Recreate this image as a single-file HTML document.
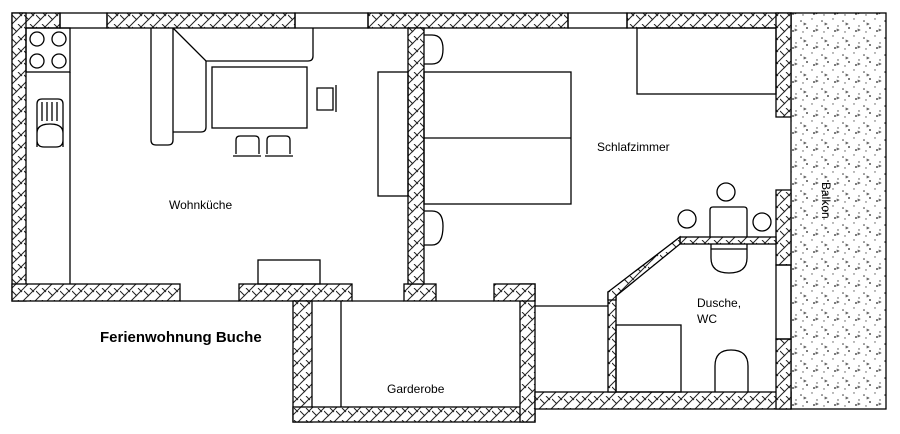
<!DOCTYPE html>
<html><head><meta charset="utf-8"><style>
html,body{margin:0;padding:0;background:#fff}
svg{display:block}
text{font-family:"Liberation Sans",Arial,sans-serif;fill:#000}
</style></head><body>
<svg width="900" height="434" viewBox="0 0 900 434" xmlns="http://www.w3.org/2000/svg">
<defs>
<pattern id="h" width="12" height="12" patternUnits="userSpaceOnUse">
<rect width="12" height="12" fill="#fff"/>
<path d="M0 12 L12 0 M-3 3 L3 -3 M9 15 L15 9" stroke="#222" stroke-width="1"/>
<path d="M0 3 L5 8 M6 0 L10 4" stroke="#222" stroke-width="1"/>
</pattern>
<pattern id="d" width="21" height="17" patternUnits="userSpaceOnUse">
<rect width="21" height="17" fill="#fff"/>
<circle cx="3" cy="4" r="0.8" fill="#333"/><circle cx="14" cy="2" r="0.7" fill="#555"/>
<circle cx="9" cy="11" r="0.9" fill="#222"/><circle cx="19" cy="9" r="0.7" fill="#444"/>
<circle cx="5" cy="15" r="0.7" fill="#555"/><circle cx="16" cy="14" r="0.9" fill="#222"/>
<path d="M18 12 l2 1 l-2 1z" fill="none" stroke="#333" stroke-width="0.6"/>
<path d="M6 6 l2 1 l-2 1z" fill="none" stroke="#333" stroke-width="0.6"/>
</pattern>
</defs>
<g stroke="#000" stroke-width="1.3">
<rect x="791" y="13" width="95" height="396" fill="url(#d)"/>
<g fill="url(#h)">
<rect x="12" y="13" width="48" height="15"/>
<rect x="107" y="13" width="188" height="15"/>
<rect x="368" y="13" width="200" height="15"/>
<rect x="627" y="13" width="164" height="15"/>
<rect x="12" y="13" width="14" height="288"/>
<rect x="12" y="284" width="168" height="17"/>
<rect x="239" y="284" width="113" height="17"/>
<rect x="404" y="284" width="32" height="17"/>
<rect x="408" y="28" width="16" height="256"/>
<rect x="293" y="301" width="19" height="121"/>
<rect x="293" y="407" width="242" height="15"/>
<rect x="520" y="284" width="15" height="138"/>
<rect x="494" y="284" width="41" height="17"/>
<rect x="535" y="392" width="256" height="17"/>
<rect x="776" y="13" width="15" height="104"/>
<rect x="776" y="190" width="15" height="75"/>
<rect x="776" y="339" width="15" height="70"/>
<rect x="608" y="292" width="8" height="100"/>
<rect x="680" y="237" width="96" height="7"/>
<polygon points="608,292 680,237 680,244 616,296 616,300 608,300"/>
</g>
<g fill="none">
<rect x="60" y="13" width="47" height="15"/>
<rect x="295" y="13" width="73" height="15"/>
<rect x="568" y="13" width="59" height="15"/>
<rect x="776" y="265" width="15" height="74"/>
<line x1="436" y1="301" x2="494" y2="301"/>
<line x1="180" y1="301" x2="239" y2="301"/>
<line x1="352" y1="301" x2="404" y2="301"/>
<rect x="26" y="28" width="44" height="44"/>
<circle cx="37" cy="39" r="7"/><circle cx="59" cy="39" r="7"/>
<circle cx="37" cy="61" r="7"/><circle cx="59" cy="61" r="7"/>
<line x1="70" y1="72" x2="70" y2="284"/>
<path d="M37 147 V104 Q37 99 42 99 H58 Q63 99 63 104 V147 M37 133 Q37 124 50 124 Q63 124 63 133 M37 133 V140 Q37 147 44 147 H56 Q63 147 63 140 V133"/>
<path d="M42 102 V121 M47 102 V121 M52 102 V121 M57 102 V121"/>
<path d="M151 28 V140 Q151 145 156 145 H168 Q173 145 173 140 V28"/>
<path d="M173 28 L206 61 H308 Q313 61 313 56 V28"/>
<path d="M206 61 V127 Q206 132 201 132 H173"/>
<rect x="212" y="67" width="95" height="61"/>
<path d="M236 154 V140 Q236 136 240 136 H255 Q259 136 259 140 V154 M233 156 H261"/>
<path d="M267 154 V140 Q267 136 271 136 H286 Q290 136 290 140 V154 M265 156 H293"/>
<path d="M317 88 H333 V110 H317 Z M336 85 V112"/>
<rect x="378" y="72" width="30" height="124"/>
<rect x="258" y="260" width="62" height="24"/>
<path d="M424 35 H432 Q443 35 443 49 Q443 64 432 64 H424"/>
<path d="M424 211 H432 Q443 211 443 226 Q443 245 432 245 H424"/>
<rect x="424" y="72" width="147" height="132"/>
<line x1="424" y1="138" x2="571" y2="138"/>
<rect x="637" y="28" width="139" height="66"/>
<circle cx="726" cy="192" r="9"/><circle cx="687" cy="219" r="9"/><circle cx="762" cy="222" r="9"/>
<path d="M710 237 V210 Q710 207 713 207 H744 Q747 207 747 210 V237"/>
<path d="M711 244 V258 Q711 273 729 273 Q747 273 747 258 V244 M711 249 H747"/>
<rect x="616" y="325" width="65" height="67"/>
<path d="M715 392 V366 Q715 350 731 350 Q748 350 748 366 V392"/>
<line x1="535" y1="306" x2="608" y2="306"/>
<line x1="341" y1="301" x2="341" y2="407"/>
</g>
</g>
<text x="169" y="209" font-size="12">Wohnküche</text>
<text x="597" y="151" font-size="12">Schlafzimmer</text>
<text x="100" y="342" font-size="15" font-weight="bold">Ferienwohnung Buche</text>
<text x="387" y="393" font-size="12">Garderobe</text>
<text x="697" y="307" font-size="12">Dusche,</text>
<text x="697" y="323" font-size="12">WC</text>
<text x="0" y="0" font-size="12" transform="translate(822,182) rotate(90)">Balkon</text>
</svg>
</body></html>
